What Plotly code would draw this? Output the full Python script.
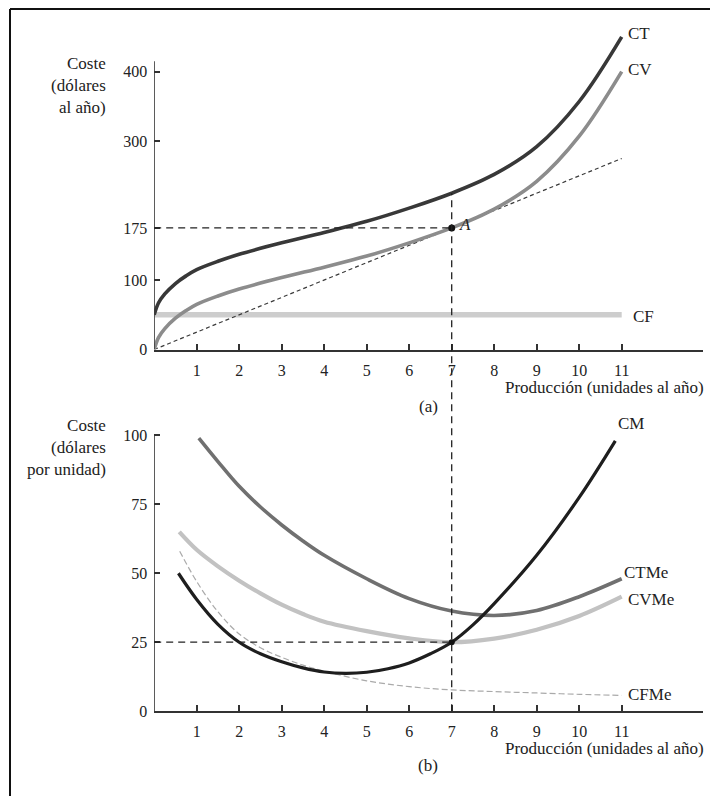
import plotly.graph_objects as go

W, H = 710, 796

# ---- Panel (a): costs per year ----
q_tot = [0, 0.1, 0.25, 0.5, 0.75, 1, 1.5, 2, 3, 4, 5, 6, 7, 8, 9, 10, 11]
cv = [0, 17, 30, 45, 56, 65, 77, 87, 103.5, 118.5, 134.5, 153.5, 175, 202, 242, 307, 400]
ct = [50, 67, 80, 95, 106, 115, 127, 137, 153.5, 168.5, 184.5, 203.5, 225, 252, 292, 357, 450]
q_cf = [0, 11]
cf = [50, 50]
q_ray = [0, 11]
ray = [0, 275]
q_a = 7
cost_a = 175

# ---- Panel (b): costs per unit ----
q_cm = [0.57, 1, 1.5, 2, 2.5, 3, 3.5, 4, 4.5, 5, 5.5, 6, 6.5, 7, 7.5, 8, 9, 10, 10.85]
cm = [50, 40.5, 31.5, 25, 20.8, 17.9, 15.7, 14.2, 13.7, 14.1, 15.4, 17.5, 20.8, 25, 31.3, 39, 56.5, 77.5, 98]
q_ctme = [1.05, 1.5, 2, 2.5, 3, 3.5, 4, 5, 6, 7, 8, 9, 10, 11]
ctme = [99, 90.5, 81.5, 74, 67.5, 61.7, 56.5, 48, 40.8, 36.3, 34.7, 36.5, 41.5, 48]
q_cvme = [0.59, 1, 1.5, 2, 2.5, 3, 3.5, 4, 5, 6, 7, 8, 9, 10, 11]
cvme = [65, 58.5, 52.5, 47.3, 42.7, 38.6, 35.2, 32.4, 29, 26.4, 25, 26.3, 29.5, 34.5, 41.5]
q_cfme = [0.6, 1, 1.5, 2, 2.5, 3, 3.5, 4, 5, 6, 7, 8, 9, 10, 11]
cfme = [58, 47, 36, 28, 23, 19.5, 16.7, 14.5, 11, 8.9, 7.7, 7.1, 6.6, 6.1, 5.7]
cost_unit_a = 25

x_ticks = [1, 2, 3, 4, 5, 6, 7, 8, 9, 10, 11]
y_ticks_a = [0, 100, 175, 300, 400]
y_ticks_b = [0, 25, 50, 75, 100]
y_axis_top_a = 415
y_axis_top_b = 100

FONT = "Liberation Serif"
INK = "#222222"
AXIS = "#333333"


def px(x):
    return x / W


def py(y):
    return 1 - y / H


# plot-area geometry (pixels)
X0, X1 = 154.2, 703.0
A_Y0, A_Y1 = 353.5, 30.3
B_Y0, B_Y1 = 719.3, 426.35
X_MAX = 12.913
YA_MAX = 460
YB_MAX = 105

fig = go.Figure()


def curve(x, y, color, width, xa="x", ya="y", dash=None, shape="spline"):
    fig.add_trace(go.Scatter(
        x=x, y=y, mode="lines", xaxis=xa, yaxis=ya,
        line=dict(color=color, width=width, dash=dash, shape=shape, smoothing=1.0),
        hoverinfo="skip", showlegend=False,
    ))


# panel (a)
curve(q_cf, cf, "#cdcdcd", 5.5, shape="linear")
curve(q_ray, ray, "#3a3a3a", 1.2, dash="4px,3px", shape="linear")
curve(q_tot, cv, "#8c8c8c", 3.6)
curve(q_tot, ct, "#383838", 3.6)
fig.add_trace(go.Scatter(x=[q_a], y=[cost_a], mode="markers", xaxis="x", yaxis="y",
                         marker=dict(color="#111111", size=7), hoverinfo="skip", showlegend=False))

# panel (b)
curve(q_cfme, cfme, "#aaaaaa", 1.2, xa="x2", ya="y2", dash="6px,3px")
curve(q_cvme, cvme, "#c2c2c2", 4.2, xa="x2", ya="y2")
curve(q_ctme, ctme, "#707070", 3.6, xa="x2", ya="y2")
curve(q_cm, cm, "#1e1e1e", 3.2, xa="x2", ya="y2")
fig.add_trace(go.Scatter(x=[q_a], y=[cost_unit_a], mode="markers", xaxis="x2", yaxis="y2",
                         marker=dict(color="#111111", size=6), hoverinfo="skip", showlegend=False))

shapes = []
# y-axis lines (drawn as shapes so the plot area can extend above them)
shapes.append(dict(type="line", xref="x", yref="y", x0=0, x1=0, y0=0, y1=y_axis_top_a,
                   line=dict(color=AXIS, width=1.6)))
shapes.append(dict(type="line", xref="x2", yref="y2", x0=0, x1=0, y0=0, y1=y_axis_top_b,
                   line=dict(color=AXIS, width=1.6)))
# guide lines to point A
shapes.append(dict(type="line", xref="x", yref="y", x0=0, x1=q_a, y0=cost_a, y1=cost_a,
                   line=dict(color=INK, width=1.3, dash="7px,5px")))
shapes.append(dict(type="line", xref="x2", yref="y2", x0=0, x1=q_a, y0=cost_unit_a, y1=cost_unit_a,
                   line=dict(color=INK, width=1.3, dash="7px,5px")))
ct_at_a = ct[q_tot.index(q_a)]
top_paper = py(A_Y0) + (py(A_Y1) - py(A_Y0)) * ct_at_a / YA_MAX
shapes.append(dict(type="line", xref="x", yref="paper", x0=q_a, x1=q_a,
                   y0=py(B_Y0), y1=top_paper,
                   line=dict(color=INK, width=1.3, dash="7px,5px")))
# frame
shapes.append(dict(type="line", xref="paper", yref="paper", x0=px(10), x1=px(10), y0=py(9), y1=py(810),
                   line=dict(color="#111111", width=2)))
shapes.append(dict(type="line", xref="paper", yref="paper", x0=px(10), x1=px(720), y0=py(9), y1=py(9),
                   line=dict(color="#111111", width=2)))

ann = []


def label(text, x, y, xanchor="left", yanchor="middle", align="left", size=17):
    ann.append(dict(text=text, x=px(x), y=py(y), xref="paper", yref="paper",
                    xanchor=xanchor, yanchor=yanchor, align=align, showarrow=False,
                    font=dict(family=FONT, size=size, color=INK)))


label("Coste<br>(dólares<br>al año)", 108, 86, xanchor="right", align="right")
label("Coste<br>(dólares<br>por unidad)", 108, 453, xanchor="right", align="right")
label("Producción (unidades al año)", 706, 392, xanchor="right")
label("Producción (unidades al año)", 706, 757, xanchor="right")
label("(a)", 428, 411, xanchor="center")
label("(b)", 428, 774, xanchor="center")
label("CT", 626, 34)
label("CV", 626, 70)
label("CF", 631, 320)
label("<i>A</i>", 457, 227)
label("CM", 616, 428)
label("CTMe", 622, 579)
label("CVMe", 626, 606)
label("CFMe", 626, 702)

tickfont = dict(family=FONT, size=16, color=INK)
xaxis_common = dict(
    range=[0, X_MAX], tickvals=x_ticks, ticktext=[str(v) for v in x_ticks],
    ticks="inside", ticklen=6, tickwidth=1.5, tickcolor=AXIS,
    showline=True, linecolor=AXIS, linewidth=1.6, showgrid=False, zeroline=False,
    tickfont=tickfont, ticklabelstandoff=5, fixedrange=True,
)
yaxis_common = dict(
    ticks="inside", ticklen=6, tickwidth=1.5, tickcolor=AXIS,
    showline=False, showgrid=False, zeroline=False,
    tickfont=tickfont, ticklabelstandoff=6, fixedrange=True,
)

fig.update_layout(
    width=W, height=H, margin=dict(l=0, r=0, t=0, b=0),
    paper_bgcolor="white", plot_bgcolor="rgba(0,0,0,0)",
    xaxis=dict(domain=[px(X0), px(X1)], anchor="y", **xaxis_common),
    yaxis=dict(domain=[py(A_Y0), py(A_Y1)], anchor="x", range=[0, YA_MAX],
               tickvals=y_ticks_a, ticktext=[str(v) for v in y_ticks_a], **yaxis_common),
    xaxis2=dict(domain=[px(X0), px(X1)], anchor="y2", **xaxis_common),
    yaxis2=dict(domain=[py(B_Y0), py(B_Y1)], anchor="x2", range=[0, YB_MAX],
                tickvals=y_ticks_b, ticktext=[str(v) for v in y_ticks_b], **yaxis_common),
    shapes=shapes, annotations=ann, showlegend=False,
)

fig.write_html("out.html")
